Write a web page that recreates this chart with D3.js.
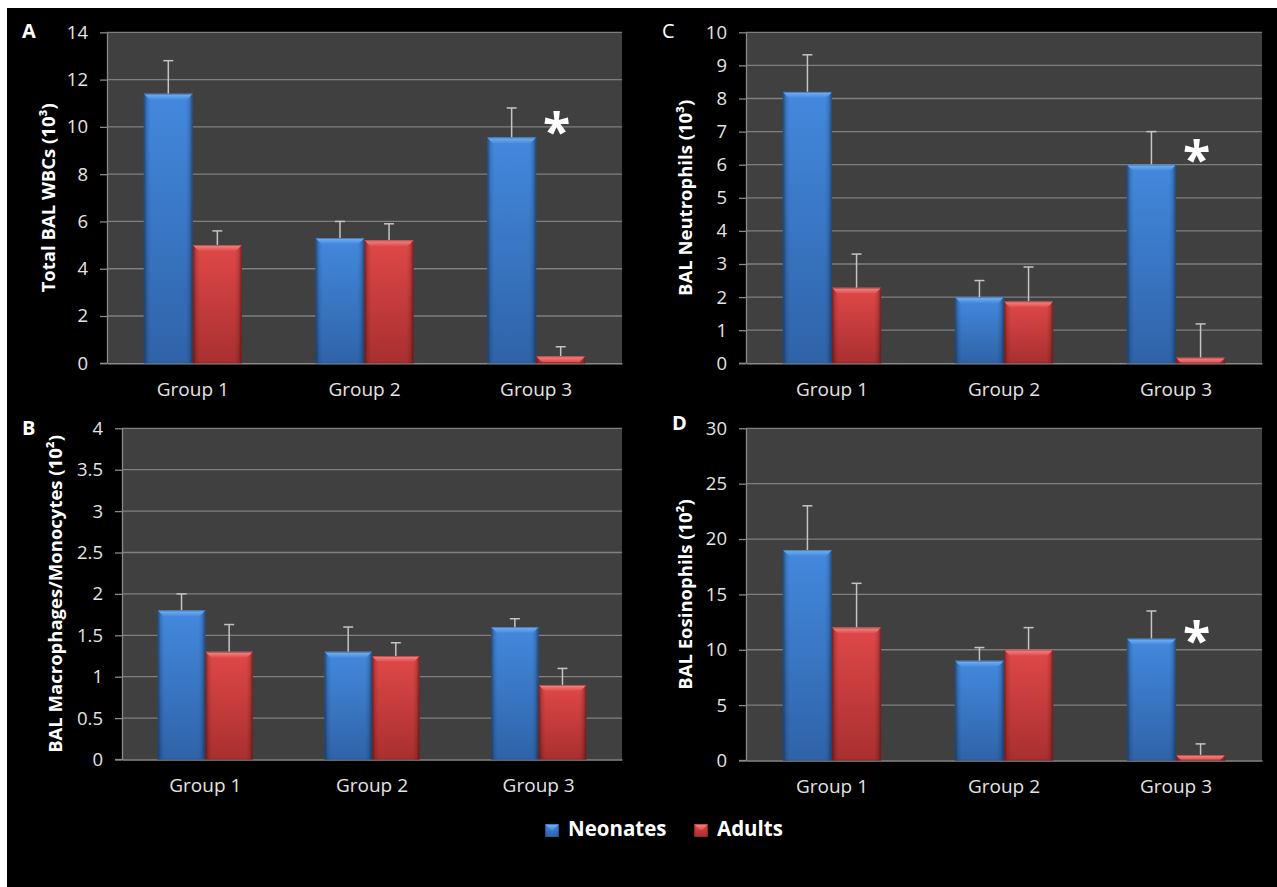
<!DOCTYPE html>
<html><head><meta charset="utf-8">
<script src="https://cdn.jsdelivr.net/npm/d3@7/dist/d3.min.js"></script>
<style>
html,body{margin:0;padding:0;background:#fff;}
svg{display:block;}
text{font-family:"Open Sans",sans-serif;}
</style></head><body>
<svg id="chart" width="1277" height="887"></svg>
<script>
// ---------- data ----------
const groups = ["Group 1", "Group 2", "Group 3"];
const seriesNames = ["Neonates", "Adults"];

// Panel A: Total BAL WBCs (10^3)
const wbcNeonates = [11.4, 5.3, 9.55];
const wbcNeonatesErr = [1.4, 0.7, 1.25];
const wbcAdults = [5.0, 5.2, 0.3];
const wbcAdultsErr = [0.6, 0.7, 0.4];
const wbcTicks = [0, 2, 4, 6, 8, 10, 12, 14];

// Panel B: BAL Macrophages/Monocytes (10^2)
const macNeonates = [1.8, 1.3, 1.6];
const macNeonatesErr = [0.2, 0.3, 0.1];
const macAdults = [1.3, 1.25, 0.9];
const macAdultsErr = [0.33, 0.16, 0.2];
const macTicks = [0, 0.5, 1, 1.5, 2, 2.5, 3, 3.5, 4];

// Panel C: BAL Neutrophils (10^3)
const neuNeonates = [8.2, 2.0, 6.0];
const neuNeonatesErr = [1.12, 0.5, 1.0];
const neuAdults = [2.28, 1.87, 0.17];
const neuAdultsErr = [1.02, 1.04, 1.02];
const neuTicks = [0, 1, 2, 3, 4, 5, 6, 7, 8, 9, 10];

// Panel D: BAL Eosinophils (10^2)
const eosNeonates = [19, 9, 11];
const eosNeonatesErr = [4, 1.2, 2.5];
const eosAdults = [12, 10, 0.5];
const eosAdultsErr = [4, 2, 1];
const eosTicks = [0, 5, 10, 15, 20, 25, 30];

// significance markers per panel
const starA = [{group: "Group 3", value: 10.15}];
const starB = [];
const starC = [{group: "Group 3", value: 6.4}];
const starD = [{group: "Group 3", value: 11.6}];

// ---------- layout ----------
const panels = [
  {letter: "A", letterBold: true, title: "Total BAL WBCs (10\u00B3)", neo: wbcNeonates, neoErr: wbcNeonatesErr, ad: wbcAdults, adErr: wbcAdultsErr, ticks: wbcTicks, stars: starA,
   box: {l: 107, r: 622, t: 32.3, b: 363.3}, letterPos: [22, 38], titleX: 49},
  {letter: "B", letterBold: true, title: "BAL Macrophages/Monocytes (10\u00B2)", neo: macNeonates, neoErr: macNeonatesErr, ad: macAdults, adErr: macAdultsErr, ticks: macTicks, stars: starB,
   box: {l: 122, r: 622, t: 428.3, b: 759.5}, letterPos: [22, 435], titleX: 56},
  {letter: "C", letterBold: false, title: "BAL Neutrophils (10\u00B3)", neo: neuNeonates, neoErr: neuNeonatesErr, ad: neuAdults, adErr: neuAdultsErr, ticks: neuTicks, stars: starC,
   box: {l: 746, r: 1262, t: 32.3, b: 363.3}, letterPos: [662, 38], titleX: 686},
  {letter: "D", letterBold: true, title: "BAL Eosinophils (10\u00B2)", neo: eosNeonates, neoErr: eosNeonatesErr, ad: eosAdults, adErr: eosAdultsErr, ticks: eosTicks, stars: starD,
   box: {l: 746, r: 1262, t: 428.3, b: 760.5}, letterPos: [672, 430], titleX: 686}
];

const colors = {
  Neonates: {top: "#4389de", bottom: "#2f63a8", bevel: "#78b4f2", edge: "#234f8c"},
  Adults:   {top: "#e04848", bottom: "#a92f2f", bevel: "#f38c8c", edge: "#7e2020"}
};

const svg = d3.select("#chart");
svg.append("rect").attr("x", 7).attr("y", 8).attr("width", 1270).attr("height", 879).attr("fill", "#000");

const defs = svg.append("defs");
seriesNames.forEach(s => {
  const c = colors[s];
  const gv = defs.append("linearGradient").attr("id", "v-" + s).attr("x1", 0).attr("y1", 0).attr("x2", 0).attr("y2", 1);
  gv.append("stop").attr("offset", "0%").attr("stop-color", c.top);
  gv.append("stop").attr("offset", "100%").attr("stop-color", c.bottom);
  const gb = defs.append("linearGradient").attr("id", "b-" + s).attr("x1", 0).attr("y1", 0).attr("x2", 0).attr("y2", 1);
  gb.append("stop").attr("offset", "0%").attr("stop-color", c.bevel);
  gb.append("stop").attr("offset", "100%").attr("stop-color", c.top);
});
const gh = defs.append("linearGradient").attr("id", "edgeShade").attr("x1", 0).attr("y1", 0).attr("x2", 1).attr("y2", 0);
[[0, 0.45], [0.07, 0.12], [0.14, 0], [0.86, 0], [0.93, 0.12], [1, 0.45]].forEach(([o, a]) =>
  gh.append("stop").attr("offset", o).attr("stop-color", "#000").attr("stop-opacity", a));

function drawBar(g, x, w, y, h, s) {
  const c = colors[s];
  g.append("rect").attr("x", x).attr("y", y).attr("width", w).attr("height", h).attr("fill", `url(#v-${s})`);
  g.append("rect").attr("x", x).attr("y", y).attr("width", w).attr("height", h).attr("fill", "url(#edgeShade)");
  const b = Math.min(6, h);
  g.append("polygon")
    .attr("points", [[x, y], [x + w, y], [x + w - b, y + b], [x + b, y + b]].map(p => p.join(",")).join(" "))
    .attr("fill", `url(#b-${s})`);
  g.append("rect").attr("x", x + 0.5).attr("y", y + 0.5).attr("width", w - 1).attr("height", Math.max(0, h - 1))
    .attr("fill", "none").attr("stroke", c.edge).attr("stroke-opacity", 0.5).attr("stroke-width", 1);
}

panels.forEach(p => {
  const {l, r, t, b} = p.box;
  const maxV = p.ticks[p.ticks.length - 1];
  const y = d3.scaleLinear().domain([0, maxV]).range([b, t]);
  const x0 = d3.scaleBand().domain(groups).range([l, r]).paddingInner(0).paddingOuter(0);
  const x1 = d3.scaleBand().domain(seriesNames).range([0, x0.bandwidth()]).paddingInner(0).paddingOuter(0.75);
  const g = svg.append("g");

  g.append("rect").attr("x", l).attr("y", t).attr("width", r - l).attr("height", b - t).attr("fill", "#404040");
  g.append("g").selectAll("line").data(p.ticks.filter(v => v > 0)).join("line")
    .attr("x1", l).attr("x2", r).attr("y1", d => y(d)).attr("y2", d => y(d))
    .attr("stroke", "#7f7f7f").attr("stroke-width", 1.3);

  const ya = g.append("g").attr("transform", `translate(${l},0)`)
    .call(d3.axisLeft(y).tickValues(p.ticks).tickFormat(d => String(d)).tickSize(7).tickSizeOuter(0).tickPadding(12));
  ya.select(".domain").attr("stroke", "#8a8a8a").attr("stroke-width", 1.3);
  ya.selectAll(".tick line").attr("stroke", "#8a8a8a").attr("stroke-width", 1.3);
  ya.selectAll(".tick text").attr("fill", "#e4e4e4").attr("font-size", 18.5).attr("font-family", "Open Sans");

  const xa = g.append("g").attr("transform", `translate(0,${b})`)
    .call(d3.axisBottom(x0).tickSize(0).tickSizeOuter(0).tickPadding(19));
  xa.select(".domain").attr("stroke", "#8a8a8a").attr("stroke-width", 1.5);
  xa.selectAll(".tick text").attr("fill", "#e4e4e4").attr("font-size", 19).attr("font-family", "Open Sans");
  g.append("line").attr("x1", l - 7).attr("x2", l).attr("y1", b).attr("y2", b).attr("stroke", "#8a8a8a").attr("stroke-width", 1.3);

  const rows = groups.map((gr, i) => ({group: gr, items: [
    {s: "Neonates", v: p.neo[i], e: p.neoErr[i]},
    {s: "Adults", v: p.ad[i], e: p.adErr[i]}
  ]}));
  rows.forEach(row => {
    row.items.forEach(it => {
      const bx = x0(row.group) + x1(it.s);
      const bw = x1.bandwidth();
      const cx = bx + bw / 2;
      g.append("line").attr("x1", cx).attr("x2", cx).attr("y1", y(it.v)).attr("y2", y(it.v + it.e))
        .attr("stroke", "#c4c4c4").attr("stroke-width", 1.5);
      g.append("line").attr("x1", cx - 5).attr("x2", cx + 5).attr("y1", y(it.v + it.e)).attr("y2", y(it.v + it.e))
        .attr("stroke", "#c4c4c4").attr("stroke-width", 1.5);
      drawBar(g, bx, bw, y(it.v), b - y(it.v), it.s);
    });
  });

  p.stars.forEach(st => {
    const sx = x0(st.group) + x1("Adults") + x1.bandwidth() / 2 - 4;
    g.append("text").attr("x", sx).attr("y", y(st.value) + 26).attr("text-anchor", "middle")
      .attr("fill", "#fff").attr("font-weight", 700).attr("font-size", 50).text("*");
  });

  g.append("text").attr("x", p.letterPos[0]).attr("y", p.letterPos[1]).attr("fill", "#fff")
    .attr("font-weight", p.letterBold ? 700 : 400).attr("font-size", 20).text(p.letter);

  g.append("text").attr("transform", `translate(${p.titleX},${(t + b) / 2}) rotate(-90)`)
    .attr("text-anchor", "middle").attr("dy", "0.35em").attr("fill", "#fff")
    .attr("font-weight", 700).attr("font-size", 18.5).text(p.title);
});

// legend
const legend = svg.append("g");
const legendItems = [{s: "Neonates", x: 545}, {s: "Adults", x: 694}];
legendItems.forEach(li => {
  drawBar(legend, li.x, 14, 824, 13, li.s);
  legend.append("text").attr("x", li.x + 23).attr("y", 836).attr("fill", "#fff")
    .attr("font-weight", 700).attr("font-size", 20.5).text(li.s);
});
</script>
</body></html>
